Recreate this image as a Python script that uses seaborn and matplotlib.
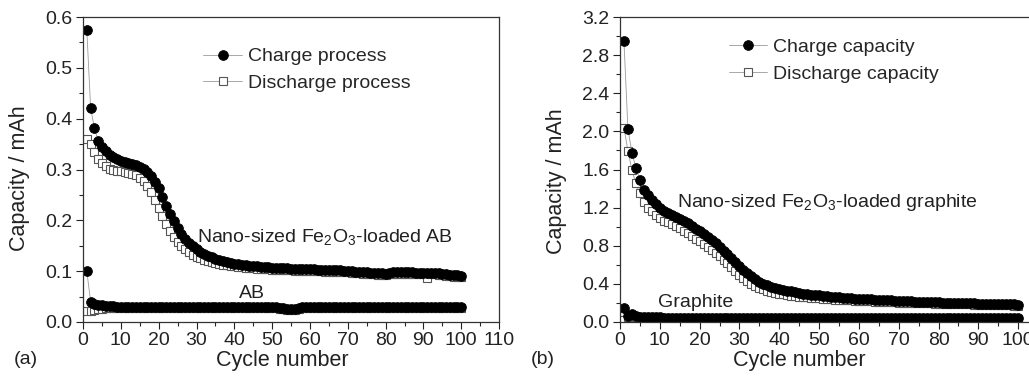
"""Capacity vs cycle number for Fe2O3-loaded AB and graphite electrodes"""

import matplotlib
matplotlib.use('Agg')
import matplotlib.pyplot as plt
from matplotlib.lines import Line2D
from matplotlib.ticker import AutoMinorLocator, FormatStrFormatter, MultipleLocator
import numpy as np
import pandas as pd
import seaborn as sns

cycles = list(range(1, 101))

# panel (a): nano-sized Fe2O3-loaded AB
ab_fe_charge = [
    0.574, 0.422, 0.381, 0.357, 0.345, 0.336, 0.329, 0.324, 0.320, 0.317,
    0.314, 0.312, 0.310, 0.308, 0.305, 0.301, 0.295, 0.287, 0.276, 0.263,
    0.246, 0.228, 0.213, 0.198, 0.185, 0.174, 0.164, 0.156, 0.149, 0.143,
    0.138, 0.134, 0.130, 0.127, 0.124, 0.122, 0.120, 0.118, 0.116, 0.115,
    0.114, 0.113, 0.112, 0.111, 0.110, 0.110, 0.109, 0.108, 0.108, 0.107,
    0.107, 0.106, 0.106, 0.106, 0.105, 0.105, 0.105, 0.104, 0.104, 0.104,
    0.104, 0.103, 0.103, 0.103, 0.103, 0.102, 0.102, 0.102, 0.101, 0.101,
    0.100, 0.099, 0.099, 0.098, 0.098, 0.097, 0.097, 0.096, 0.096, 0.095,
    0.097, 0.098, 0.098, 0.098, 0.098, 0.098, 0.098, 0.097, 0.097, 0.097,
    0.097, 0.097, 0.097, 0.096, 0.095, 0.094, 0.093, 0.092, 0.092, 0.091,
]
ab_fe_discharge = [
    0.360, 0.350, 0.334, 0.320, 0.312, 0.306, 0.302, 0.300, 0.298, 0.297,
    0.296, 0.294, 0.292, 0.289, 0.284, 0.277, 0.268, 0.256, 0.241, 0.225,
    0.208, 0.193, 0.180, 0.168, 0.158, 0.150, 0.143, 0.137, 0.132, 0.128,
    0.125, 0.122, 0.120, 0.118, 0.116, 0.114, 0.113, 0.112, 0.111, 0.110,
    0.109, 0.108, 0.107, 0.107, 0.106, 0.105, 0.105, 0.104, 0.104, 0.103,
    0.103, 0.103, 0.102, 0.102, 0.102, 0.101, 0.101, 0.101, 0.101, 0.100,
    0.100, 0.100, 0.100, 0.099, 0.099, 0.099, 0.099, 0.098, 0.098, 0.098,
    0.097, 0.096, 0.096, 0.095, 0.095, 0.094, 0.094, 0.093, 0.093, 0.092,
    0.094, 0.095, 0.095, 0.095, 0.095, 0.095, 0.095, 0.094, 0.094, 0.094,
    0.087, 0.094, 0.094, 0.093, 0.092, 0.091, 0.090, 0.089, 0.089, 0.088,
]
# panel (a): bare AB
ab_charge = [
    0.100, 0.040, 0.036, 0.034, 0.033, 0.032, 0.031, 0.031, 0.030, 0.030,
    0.030, 0.030, 0.030, 0.030, 0.030, 0.030, 0.030, 0.030, 0.030, 0.030,
    0.030, 0.030, 0.030, 0.030, 0.030, 0.029, 0.029, 0.029, 0.029, 0.029,
    0.029, 0.029, 0.029, 0.029, 0.029, 0.029, 0.029, 0.029, 0.029, 0.029,
    0.029, 0.029, 0.029, 0.029, 0.029, 0.029, 0.029, 0.029, 0.029, 0.029,
    0.029, 0.028, 0.027, 0.026, 0.026, 0.026, 0.027, 0.029, 0.030, 0.030,
    0.030, 0.030, 0.030, 0.030, 0.030, 0.030, 0.030, 0.030, 0.030, 0.030,
    0.030, 0.030, 0.030, 0.030, 0.030, 0.030, 0.030, 0.030, 0.030, 0.030,
    0.030, 0.030, 0.030, 0.030, 0.030, 0.030, 0.030, 0.030, 0.030, 0.030,
    0.030, 0.030, 0.030, 0.030, 0.030, 0.030, 0.030, 0.030, 0.030, 0.030,
]
ab_discharge = [
    0.022, 0.022, 0.024, 0.025, 0.026, 0.027, 0.027, 0.028, 0.028, 0.028,
    0.028, 0.028, 0.028, 0.028, 0.028, 0.028, 0.028, 0.028, 0.028, 0.028,
    0.028, 0.028, 0.028, 0.028, 0.028, 0.028, 0.028, 0.028, 0.028, 0.028,
    0.028, 0.028, 0.028, 0.028, 0.028, 0.028, 0.028, 0.028, 0.028, 0.028,
    0.028, 0.028, 0.028, 0.028, 0.028, 0.028, 0.028, 0.028, 0.028, 0.028,
    0.027, 0.026, 0.025, 0.024, 0.024, 0.024, 0.025, 0.027, 0.028, 0.028,
    0.028, 0.028, 0.028, 0.028, 0.028, 0.028, 0.028, 0.028, 0.028, 0.028,
    0.028, 0.028, 0.028, 0.028, 0.028, 0.028, 0.028, 0.028, 0.028, 0.028,
    0.028, 0.028, 0.028, 0.028, 0.028, 0.028, 0.028, 0.028, 0.028, 0.028,
    0.028, 0.028, 0.028, 0.028, 0.028, 0.028, 0.028, 0.028, 0.028, 0.028,
]

# panel (b): nano-sized Fe2O3-loaded graphite
gr_fe_charge = [
    2.944, 2.026, 1.777, 1.619, 1.490, 1.390, 1.330, 1.280, 1.240, 1.200,
    1.170, 1.140, 1.120, 1.100, 1.080, 1.060, 1.040, 1.010, 0.980, 0.950,
    0.920, 0.890, 0.860, 0.830, 0.790, 0.750, 0.710, 0.670, 0.630, 0.590,
    0.550, 0.510, 0.480, 0.450, 0.420, 0.400, 0.385, 0.370, 0.360, 0.350,
    0.340, 0.330, 0.320, 0.312, 0.305, 0.298, 0.292, 0.287, 0.282, 0.278,
    0.274, 0.270, 0.266, 0.262, 0.258, 0.255, 0.252, 0.249, 0.246, 0.243,
    0.240, 0.238, 0.236, 0.234, 0.232, 0.230, 0.228, 0.226, 0.224, 0.222,
    0.220, 0.218, 0.216, 0.214, 0.212, 0.210, 0.209, 0.208, 0.206, 0.205,
    0.204, 0.202, 0.200, 0.199, 0.198, 0.197, 0.196, 0.195, 0.194, 0.193,
    0.192, 0.191, 0.190, 0.189, 0.188, 0.187, 0.186, 0.185, 0.184, 0.183,
]
gr_fe_discharge = [
    2.040, 1.795, 1.595, 1.455, 1.350, 1.260, 1.200, 1.160, 1.120, 1.090,
    1.065, 1.045, 1.025, 1.005, 0.985, 0.960, 0.935, 0.905, 0.875, 0.845,
    0.815, 0.785, 0.755, 0.725, 0.690, 0.655, 0.615, 0.575, 0.535, 0.495,
    0.460, 0.430, 0.400, 0.378, 0.358, 0.342, 0.328, 0.316, 0.306, 0.298,
    0.290, 0.283, 0.277, 0.272, 0.267, 0.262, 0.258, 0.254, 0.250, 0.247,
    0.244, 0.241, 0.238, 0.235, 0.232, 0.230, 0.228, 0.226, 0.224, 0.222,
    0.220, 0.218, 0.216, 0.214, 0.212, 0.210, 0.208, 0.207, 0.205, 0.204,
    0.202, 0.201, 0.200, 0.198, 0.197, 0.196, 0.195, 0.194, 0.193, 0.192,
    0.191, 0.190, 0.189, 0.188, 0.187, 0.186, 0.185, 0.184, 0.183, 0.182,
    0.181, 0.180, 0.179, 0.178, 0.177, 0.176, 0.175, 0.174, 0.173, 0.172,
]
# panel (b): bare graphite
gr_charge = [
    0.150, 0.060, 0.080, 0.062, 0.055, 0.052, 0.050, 0.049, 0.048, 0.048,
    0.047, 0.047, 0.047, 0.047, 0.047, 0.046, 0.046, 0.046, 0.046, 0.046,
    0.046, 0.046, 0.045, 0.045, 0.045, 0.045, 0.045, 0.045, 0.045, 0.045,
    0.045, 0.045, 0.044, 0.044, 0.044, 0.044, 0.044, 0.044, 0.044, 0.044,
    0.044, 0.044, 0.043, 0.043, 0.043, 0.043, 0.043, 0.043, 0.043, 0.043,
    0.043, 0.043, 0.042, 0.042, 0.042, 0.042, 0.042, 0.042, 0.042, 0.042,
    0.042, 0.042, 0.041, 0.041, 0.041, 0.041, 0.041, 0.041, 0.041, 0.041,
    0.041, 0.041, 0.040, 0.040, 0.040, 0.040, 0.040, 0.040, 0.040, 0.040,
    0.040, 0.040, 0.039, 0.039, 0.039, 0.039, 0.039, 0.039, 0.039, 0.039,
    0.039, 0.039, 0.038, 0.038, 0.038, 0.038, 0.038, 0.038, 0.038, 0.038,
]
gr_discharge = [
    0.100, 0.050, 0.052, 0.048, 0.046, 0.045, 0.044, 0.044, 0.043, 0.043,
    0.043, 0.043, 0.042, 0.042, 0.042, 0.042, 0.042, 0.042, 0.042, 0.042,
    0.041, 0.041, 0.041, 0.041, 0.041, 0.041, 0.041, 0.041, 0.041, 0.041,
    0.040, 0.040, 0.040, 0.040, 0.040, 0.040, 0.040, 0.040, 0.040, 0.040,
    0.039, 0.039, 0.039, 0.039, 0.039, 0.039, 0.039, 0.039, 0.039, 0.039,
    0.038, 0.038, 0.038, 0.038, 0.038, 0.038, 0.038, 0.038, 0.038, 0.038,
    0.038, 0.038, 0.037, 0.037, 0.037, 0.037, 0.037, 0.037, 0.037, 0.037,
    0.037, 0.037, 0.037, 0.037, 0.036, 0.036, 0.036, 0.036, 0.036, 0.036,
    0.036, 0.036, 0.036, 0.036, 0.036, 0.036, 0.036, 0.036, 0.036, 0.036,
    0.036, 0.036, 0.036, 0.036, 0.036, 0.036, 0.036, 0.036, 0.036, 0.036,
]

sns.set_style('ticks')
plt.rcParams['font.family'] = ['Liberation Sans', 'DejaVu Sans']
plt.rcParams['mathtext.default'] = 'regular'
plt.rcParams['axes.linewidth'] = 0.9

LINE_GRAY = '#9a9a9a'
circle_kw = dict(marker='o', markersize=7, markerfacecolor='black',
                 markeredgecolor='black', markeredgewidth=0.6)
square_kw = dict(marker='s', markersize=5.5, markerfacecolor='white',
                 markeredgecolor='#555555', markeredgewidth=0.8)


def draw_pair(ax, charge, discharge):
    # discharge first so the filled circles sit on top like the original
    sns.lineplot(x=cycles, y=discharge, ax=ax, color=LINE_GRAY, linewidth=0.6,
                 estimator=None, sort=False, **square_kw)
    sns.lineplot(x=cycles, y=charge, ax=ax, color=LINE_GRAY, linewidth=0.6,
                 estimator=None, sort=False, **circle_kw)


def style_axis(ax, xmax, ymax, ystep, yminor):
    ax.set_xlim(0, xmax)
    ax.set_ylim(0, ymax)
    ax.xaxis.set_major_locator(MultipleLocator(10))
    ax.xaxis.set_minor_locator(AutoMinorLocator(2))
    ax.yaxis.set_major_locator(MultipleLocator(ystep))
    ax.yaxis.set_minor_locator(MultipleLocator(yminor))
    ax.yaxis.set_major_formatter(FormatStrFormatter('%.1f'))
    ax.tick_params(which='major', direction='out', length=5, width=0.8,
                   labelsize=14, colors='#222222', pad=2.5)
    ax.tick_params(which='minor', direction='out', length=3, width=0.8)
    for sp in ax.spines.values():
        sp.set_color('#333333')
    ax.set_xlabel('Cycle number', fontsize=15.5, color='#222222')
    ax.set_ylabel('Capacity / mAh', fontsize=15.5, color='#222222')


fig = plt.figure(figsize=(10.29, 3.84), dpi=100)
ax_a = fig.add_axes([0.0807, 0.1615, 0.4043, 0.794])
ax_b = fig.add_axes([0.6025, 0.1615, 0.4257, 0.794])

# (a)
draw_pair(ax_a, ab_fe_charge, ab_fe_discharge)
draw_pair(ax_a, ab_charge, ab_discharge)
style_axis(ax_a, 110, 0.6, 0.1, 0.05)
ax_a.xaxis.set_label_coords(0.478, -0.092)
ax_a.yaxis.set_label_coords(-0.127, 0.472)
ax_a.text(30.1, 0.167, 'Nano-sized Fe$_2$O$_3$-loaded AB', fontsize=14,
          ha='left', va='center', color='#222222')
ax_a.text(44.7, 0.057, 'AB', fontsize=14, ha='center', va='center',
          color='#222222')

# (b) - axis runs past the figure edge, as in the cropped original
draw_pair(ax_b, gr_fe_charge, gr_fe_discharge)
draw_pair(ax_b, gr_charge, gr_discharge)
style_axis(ax_b, 110, 3.2, 0.4, 0.2)
ax_b.xaxis.set_label_coords(0.409, -0.092)
ax_b.yaxis.set_label_coords(-0.121, 0.462)
ax_b.text(14.3, 1.25, 'Nano-sized Fe$_2$O$_3$-loaded graphite', fontsize=14,
          ha='left', va='center', color='#222222')
ax_b.text(19.1, 0.2, 'Graphite', fontsize=14, ha='center', va='center',
          color='#222222')

for ax, labels, anchor in [
    (ax_a, ('Charge process', 'Discharge process'), (0.27, 0.925)),
    (ax_b, ('Charge capacity', 'Discharge capacity'), (0.23, 0.955)),
]:
    handles = [
        Line2D([], [], color=LINE_GRAY, linewidth=0.6, **circle_kw),
        Line2D([], [], color=LINE_GRAY, linewidth=0.6, **square_kw),
    ]
    ax.legend(handles, labels, loc='upper left', bbox_to_anchor=anchor,
              frameon=False, fontsize=14, handlelength=2.0, handletextpad=0.3,
              labelspacing=0.45, borderaxespad=0)

fig.text(0.025, 0.0625, '(a)', fontsize=14, ha='center', va='center',
         color='#222222')
fig.text(0.527, 0.0625, '(b)', fontsize=14, ha='center', va='center',
         color='#222222')

fig.savefig('out.png', dpi=100)
